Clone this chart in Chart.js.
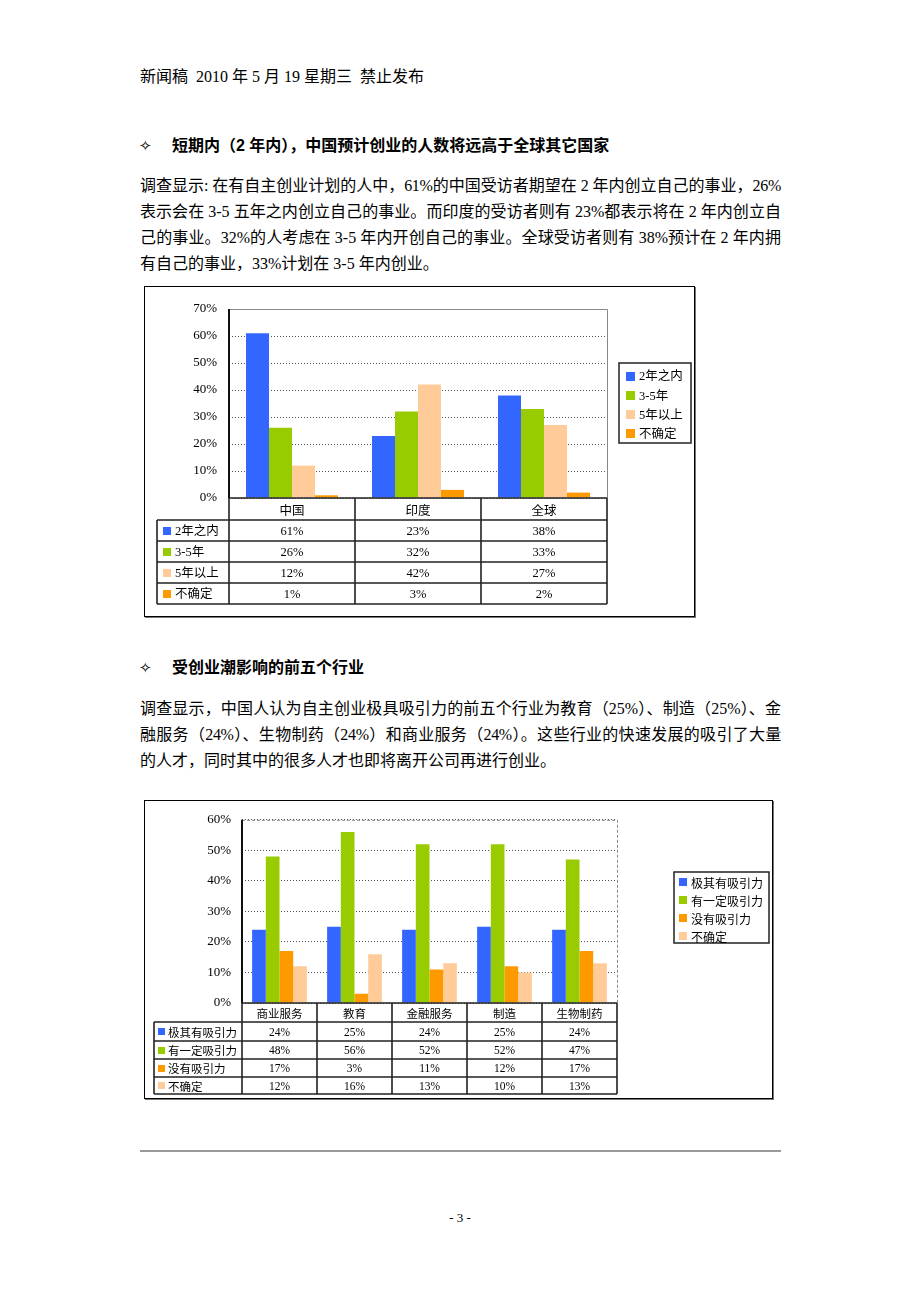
<!DOCTYPE html>
<html lang="zh-CN">
<head>
<meta charset="utf-8">
<title>新闻稿</title>
<script src="https://cdn.jsdelivr.net/npm/chart.js@4.4.1/dist/chart.umd.min.js"></script>
<style>
body { margin: 0; background: #fff; }
#page { position: relative; width: 920px; height: 1302px; font-family: 'Liberation Serif', 'Noto Sans CJK SC', serif; color: #000; overflow: hidden; }
.t { position: absolute; left: 140px; font-size: 16px; line-height: 20px; white-space: nowrap; }
.j { width: 641px; text-align: justify; text-align-last: justify; white-space: normal; }
.h { left: 172px; font-family: 'Liberation Sans', 'Noto Sans CJK SC', sans-serif; font-weight: bold; }
.dia { position: absolute; left: 139px; font-family: 'DejaVu Sans', sans-serif; font-size: 15px; line-height: 20px; }
.box { position: absolute; border: 1px solid #000; box-shadow: 1px 1px 0 #777; box-sizing: border-box; }
.box canvas { position: absolute; left: 0; top: 0; }
</style>
</head>
<body>
<div id="page">
  <div class="t" style="top:67px">新闻稿&nbsp; 2010 年 5 月 19 星期三&nbsp; 禁止发布</div>

  <div class="dia" style="top:136px">✧</div>
  <div class="t h" style="top:136px">短期内（2 年内），中国预计创业的人数将远高于全球其它国家</div>

  <div class="t j" style="top:176px; letter-spacing:-0.3px">调查显示: 在有自主创业计划的人中，61%的中国受访者期望在 2 年内创立自己的事业，26%</div>
  <div class="t j" style="top:202px">表示会在 3-5 五年之内创立自己的事业。而印度的受访者则有 23%都表示将在 2 年内创立自</div>
  <div class="t j" style="top:228px">己的事业。32%的人考虑在 3-5 年内开创自己的事业。全球受访者则有 38%预计在 2 年内拥</div>
  <div class="t" style="top:254px">有自己的事业，33%计划在 3-5 年内创业。</div>

  <div class="box" style="left:144px; top:286px; width:551px; height:331px;">
    <canvas id="chart1" width="549" height="329"></canvas>
  </div>

  <div class="dia" style="top:658px">✧</div>
  <div class="t h" style="top:658px">受创业潮影响的前五个行业</div>

  <div class="t j" style="top:699px">调查显示，中国人认为自主创业极具吸引力的前五个行业为教育（25%）、制造（25%）、金</div>
  <div class="t j" style="top:725px; letter-spacing:-0.3px">融服务（24%）、生物制药（24%）和商业服务（24%）。这些行业的快速发展的吸引了大量</div>
  <div class="t" style="top:751px">的人才，同时其中的很多人才也即将离开公司再进行创业。</div>

  <div class="box" style="left:144px; top:800px; width:629px; height:299px;">
    <canvas id="chart2" width="627" height="297"></canvas>
  </div>

  <div style="position:absolute; left:140px; top:1150px; width:641px; height:2px; background:#999;"></div>
  <div class="t" style="left:0; width:920px; text-align:center; top:1208px; font-size:13px;">- 3 -</div>
</div>

<script>
// chart 1: 创业时间
const regions = ['中国', '印度', '全球']
const timeLabels = ['2年之内', '3-5年', '5年以上', '不确定']
const within2 = [61, 23, 38]
const in3to5 = [26, 32, 33]
const over5 = [12, 42, 27]
const unsure1 = [1, 3, 2]
const yMax1 = 70

// chart 2: 行业吸引力
const industries = ['商业服务', '教育', '金融服务', '制造', '生物制药']
const attractLabels = ['极其有吸引力', '有一定吸引力', '没有吸引力', '不确定']
const veryAttractive = [24, 25, 24, 25, 24]
const someAttractive = [48, 56, 52, 52, 47]
const notAttractive = [17, 3, 11, 12, 17]
const unsure2 = [12, 16, 13, 10, 13]
const yMax2 = 60

const BLUE = '#3366ff', GREEN = '#99cc00', PEACH = '#ffcc99', ORANGE = '#ff9900'
const SERIF = "'Liberation Serif', 'Noto Sans CJK SC', serif"
const CJK = "'Noto Sans CJK SC', sans-serif"

// top/right frame of plot area + y axis line
const frame = {
    id: 'frame',
    afterDraw(chart, args, o) {
        const { ctx, chartArea: a } = chart
        ctx.save()
        ctx.strokeStyle = o.color
        ctx.lineWidth = 1
        ctx.setLineDash(o.dash || [])
        ctx.beginPath()
        ctx.moveTo(a.left, a.top + 0.5)
        ctx.lineTo(a.right + 0.5, a.top + 0.5)
        ctx.lineTo(a.right + 0.5, a.bottom)
        ctx.stroke()
        ctx.setLineDash([])
        ctx.strokeStyle = '#111'
        ctx.lineWidth = 2
        ctx.beginPath()
        ctx.moveTo(a.left, a.top)
        ctx.lineTo(a.left, a.bottom)
        ctx.stroke()
        ctx.restore()
    }
}

// data table under the plot, columns follow the category scale
const dataTable = {
    id: 'dataTable',
    afterDraw(chart, args, o) {
        const { ctx, chartArea: a } = chart
        const xs = chart.scales.x
        const labels = chart.data.labels
        const colW = (a.right - a.left) / labels.length
        const edges = labels.map((_, i) => xs.getPixelForValue(i) - colW / 2)
        edges.push(a.right)
        const ys = [a.bottom, a.bottom + o.headH]
        o.rowH.forEach(h => ys.push(ys[ys.length - 1] + h))
        const last = ys[ys.length - 1]

        ctx.save()
        ctx.strokeStyle = '#222'
        ctx.lineWidth = o.line
        ctx.beginPath()
        ctx.moveTo(a.left, ys[0])
        ctx.lineTo(a.right, ys[0])
        for (let r = 1; r < ys.length; r++) {
            ctx.moveTo(o.left, ys[r])
            ctx.lineTo(a.right, ys[r])
        }
        edges.forEach(x => {
            ctx.moveTo(x, ys[0])
            ctx.lineTo(x, last)
        })
        ctx.moveTo(o.left, ys[1])
        ctx.lineTo(o.left, last)
        ctx.stroke()

        ctx.fillStyle = '#000'
        ctx.textAlign = 'center'
        ctx.textBaseline = 'middle'
        ctx.font = o.headFont
        labels.forEach((l, i) => ctx.fillText(l, xs.getPixelForValue(i), (ys[0] + ys[1]) / 2 + 1))

        chart.data.datasets.forEach((ds, r) => {
            const cy = (ys[r + 1] + ys[r + 2]) / 2 + 1
            ctx.fillStyle = ds.backgroundColor
            ctx.fillRect(o.keyX, Math.round(cy - o.key / 2) - 1, o.key, o.key)
            ctx.fillStyle = '#000'
            ctx.textAlign = 'left'
            ctx.font = o.labelFont
            ctx.fillText(ds.label, o.textX, cy)
            ctx.textAlign = 'center'
            ctx.font = o.valFont
            ds.data.forEach((v, i) => ctx.fillText(v + '%', xs.getPixelForValue(i), cy))
        })
        ctx.restore()
    }
}

// boxed legend at the right
const boxLegend = {
    id: 'boxLegend',
    afterDraw(chart, args, o) {
        const ctx = chart.ctx
        ctx.save()
        ctx.fillStyle = '#fff'
        ctx.fillRect(o.x, o.y, o.w, o.h)
        ctx.strokeStyle = '#222'
        ctx.lineWidth = 1.5
        ctx.strokeRect(o.x, o.y, o.w, o.h)
        ctx.textBaseline = 'middle'
        ctx.textAlign = 'left'
        ctx.font = o.font
        chart.data.datasets.forEach((ds, i) => {
            const cy = o.y + o.first + i * o.step
            ctx.fillStyle = ds.backgroundColor
            ctx.fillRect(o.keyX, Math.round(cy - o.key / 2), o.key, o.key)
            ctx.fillStyle = '#000'
            ctx.fillText(ds.label, o.textX, cy + 1)
        })
        ctx.restore()
    }
}

const makeChart = (id, labels, sets, yMax, cfg) => new Chart(document.getElementById(id), {
    type: 'bar',
    data: {
        labels: labels,
        datasets: sets.map(s => ({
            label: s[0],
            data: s[1],
            backgroundColor: s[2],
            borderWidth: 0,
            barPercentage: 1,
            categoryPercentage: cfg.catPct
        }))
    },
    options: {
        responsive: false,
        animation: false,
        devicePixelRatio: 1,
        layout: { padding: cfg.padding },
        plugins: {
            legend: { display: false },
            tooltip: { enabled: false },
            frame: cfg.frame,
            dataTable: cfg.table,
            boxLegend: cfg.legend
        },
        scales: {
            x: { display: false },
            y: {
                min: 0,
                max: yMax,
                ticks: {
                    stepSize: 10,
                    padding: cfg.tickPad,
                    color: '#000',
                    font: { family: SERIF, size: 13 },
                    callback: v => v + '%'
                },
                grid: { color: '#555', lineWidth: 1, drawTicks: false },
                border: { display: false, dash: [1, 2] },
                afterFit: s => { s.width = cfg.axisW }
            }
        }
    },
    plugins: [frame, dataTable, boxLegend]
})

makeChart('chart1', regions, [
    [timeLabels[0], within2, BLUE],
    [timeLabels[1], in3to5, GREEN],
    [timeLabels[2], over5, PEACH],
    [timeLabels[3], unsure1, ORANGE]
], yMax1, {
    catPct: 0.73,
    padding: { left: 0, top: 22, right: 87, bottom: 118 },
    axisW: 84,
    tickPad: 12,
    frame: { color: '#888' },
    table: {
        headH: 22, rowH: [21, 21, 21, 21], line: 1.6, left: 12,
        keyX: 18, key: 8, textX: 30,
        headFont: '12.5px ' + CJK, labelFont: '12.5px ' + SERIF, valFont: '12.5px ' + SERIF
    },
    legend: {
        x: 474, y: 76, w: 72, h: 80, first: 13, step: 19.3,
        keyX: 481, key: 9, textX: 494, font: '12.5px ' + SERIF
    }
})

makeChart('chart2', industries, [
    [attractLabels[0], veryAttractive, BLUE],
    [attractLabels[1], someAttractive, GREEN],
    [attractLabels[2], notAttractive, ORANGE],
    [attractLabels[3], unsure2, PEACH]
], yMax2, {
    catPct: 0.73,
    padding: { left: 0, top: 18, right: 155, bottom: 95 },
    axisW: 97,
    tickPad: 11,
    frame: { color: '#888', dash: [3, 2] },
    table: {
        headH: 19, rowH: [19, 18, 18, 17], line: 1.6, left: 9,
        keyX: 13, key: 7, textX: 23,
        headFont: '11.5px ' + CJK, labelFont: '11.5px ' + CJK, valFont: '11.5px ' + SERIF
    },
    legend: {
        x: 529, y: 71, w: 95, h: 71, first: 10, step: 18,
        keyX: 534, key: 8, textX: 546, font: '12px ' + CJK
    }
})
</script>
</body>
</html>
